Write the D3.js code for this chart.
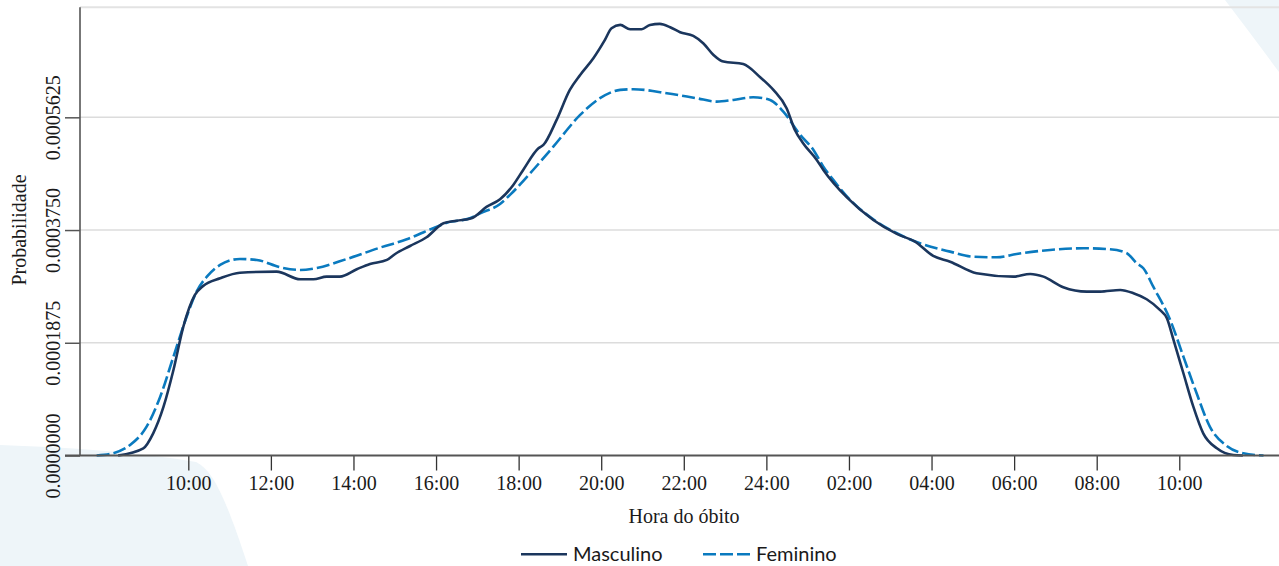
<!DOCTYPE html>
<html>
<head>
<meta charset="utf-8">
<script src="https://cdn.jsdelivr.net/npm/d3@7/dist/d3.min.js"></script>
<style>
  html, body { margin: 0; padding: 0; background: #ffffff; }
  svg { display: block; }
</style>
</head>
<body>
<svg id="chart" width="1279" height="566"></svg>
<script>
// Hour axis: continuous hours starting at 10:00, running past midnight to 10:00 next day
const hourTicks = [10, 12, 14, 16, 18, 20, 22, 24, 26, 28, 30, 32, 34];
const hourTickLabels = ["10:00", "12:00", "14:00", "16:00", "18:00", "20:00", "22:00",
                        "24:00", "02:00", "04:00", "06:00", "08:00", "10:00"];

const densityTicks = [0, 0.0001875, 0.000375, 0.0005625];
const densityTickLabels = ["0.0000000", "0.0001875", "0.0003750", "0.0005625"];

const seriesNames = ["Masculino", "Feminino"];

// Kernel density of the hour of death, men
const masculinoHour = [8.30, 8.91, 9.15, 9.40, 9.64, 9.88, 10.16, 10.36, 10.77, 11.25, 12.14, 12.71,
  13.03, 13.35, 13.67, 14.08, 14.40, 14.81, 15.01, 15.37, 15.77, 16.18, 16.50, 16.86, 17.23, 17.55,
  17.87, 18.11, 18.48, 18.60, 18.92, 19.24, 19.49, 19.81, 20.09, 20.25, 20.46, 20.70, 20.98, 21.18,
  21.42, 21.67, 21.91, 22.23, 22.47, 22.72, 22.96, 23.44, 23.85, 24.17, 24.49, 24.69, 24.89, 25.22,
  25.38, 25.95, 26.59, 27.16, 27.60, 28.04, 28.45, 29.09, 29.98, 30.39, 30.71, 31.19, 31.76, 32.08,
  32.57, 32.89, 33.21, 33.53, 33.70, 33.86, 34.10, 34.34, 34.58, 34.91, 35.31, 35.54];
const masculinoDensity = [0, 0.120e-4, 0.369e-4, 0.812e-4, 1.422e-4, 2.143e-4, 2.670e-4, 2.820e-4,
  2.948e-4, 3.041e-4, 3.058e-4, 2.931e-4, 2.931e-4, 2.975e-4, 2.975e-4, 3.098e-4, 3.186e-4, 3.253e-4,
  3.352e-4, 3.485e-4, 3.630e-4, 3.863e-4, 3.906e-4, 3.946e-4, 4.139e-4, 4.262e-4, 4.500e-4, 4.750e-4,
  5.111e-4, 5.166e-4, 5.582e-4, 6.081e-4, 6.330e-4, 6.608e-4, 6.913e-4, 7.107e-4, 7.162e-4, 7.091e-4,
  7.091e-4, 7.162e-4, 7.179e-4, 7.124e-4, 7.041e-4, 6.979e-4, 6.858e-4, 6.663e-4, 6.552e-4, 6.513e-4,
  6.292e-4, 6.081e-4, 5.776e-4, 5.415e-4, 5.194e-4, 4.916e-4, 4.750e-4, 4.292e-4, 3.918e-4, 3.685e-4,
  3.557e-4, 3.319e-4, 3.224e-4, 3.031e-4, 2.975e-4, 3.020e-4, 2.975e-4, 2.798e-4, 2.725e-4, 2.725e-4,
  2.753e-4, 2.699e-4, 2.599e-4, 2.421e-4, 2.283e-4, 1.922e-4, 1.368e-4, 0.812e-4, 0.369e-4, 0.120e-4,
  0.008e-4, 0];

// Kernel density of the hour of death, women
const femininoHour = [7.78, 8.18, 8.59, 8.99, 9.32, 9.64, 9.96, 10.20, 10.45, 10.77, 11.25, 11.66,
  12.22, 12.71, 13.11, 13.84, 14.64, 15.29, 15.93, 16.26, 16.82, 17.07, 17.55, 17.79, 18.28, 18.84,
  19.49, 19.97, 20.46, 20.78, 21.59, 22.31, 22.80, 23.20, 23.68, 24.09, 24.41, 24.82, 25.14, 25.38,
  25.62, 26.03, 26.67, 27.16, 27.72, 28.45, 29.01, 29.58, 30.06, 30.87, 31.68, 32.32, 32.73, 32.97,
  33.13, 33.37, 33.78, 34.10, 34.42, 34.74, 35.15, 35.55, 36.04];
const femininoDensity = [0, 0.037e-4, 0.175e-4, 0.479e-4, 0.978e-4, 1.644e-4, 2.309e-4, 2.725e-4,
  2.975e-4, 3.169e-4, 3.269e-4, 3.253e-4, 3.131e-4, 3.086e-4, 3.119e-4, 3.269e-4, 3.457e-4, 3.597e-4,
  3.780e-4, 3.873e-4, 3.946e-4, 4.029e-4, 4.184e-4, 4.334e-4, 4.695e-4, 5.137e-4, 5.665e-4, 5.943e-4,
  6.081e-4, 6.093e-4, 6.026e-4, 5.943e-4, 5.886e-4, 5.914e-4, 5.959e-4, 5.914e-4, 5.720e-4, 5.332e-4,
  5.083e-4, 4.805e-4, 4.584e-4, 4.251e-4, 3.890e-4, 3.697e-4, 3.530e-4, 3.391e-4, 3.307e-4, 3.297e-4,
  3.352e-4, 3.419e-4, 3.447e-4, 3.431e-4, 3.364e-4, 3.198e-4, 3.114e-4, 2.808e-4, 2.254e-4, 1.644e-4,
  1.035e-4, 0.479e-4, 0.158e-4, 0.037e-4, 0];

const svg = d3.select("#chart");
const W = 1279, H = 566;
const plot = { left: 80, right: 1279, top: 7.3, bottom: 455.5 };

// Decorative pale shapes in the page background
const bgFill = "#eef5f9";
svg.append("path")
  .attr("fill", bgFill)
  .attr("d", "M0,445 C60,447 140,452 196,462 C214,470 228,505 248,566 L0,566 Z");
svg.append("path")
  .attr("fill", bgFill)
  .attr("d", "M1225,0 L1250,33 L1279,72 L1279,0 Z");

const x = d3.scaleLinear().domain([7.377, 36.415]).range([plot.left, plot.right]);
const y = d3.scaleLinear().domain([0, 0.0007455]).range([plot.bottom, plot.top]);

// Horizontal grid and plot-region top edge
svg.append("line")
  .attr("x1", plot.left).attr("x2", W)
  .attr("y1", plot.top).attr("y2", plot.top)
  .attr("stroke", "#e3e3e3").attr("stroke-width", 2);
svg.append("g").selectAll("line")
  .data(densityTicks.filter(d => d > 0))
  .join("line")
  .attr("x1", plot.left).attr("x2", W)
  .attr("y1", d => y(d)).attr("y2", d => y(d))
  .attr("stroke", "#dcdcdc").attr("stroke-width", 1.5);

// Density curves
const series = [
  { name: seriesNames[0], hours: masculinoHour, values: masculinoDensity, color: "#1b365d", dash: null },
  { name: seriesNames[1], hours: femininoHour, values: femininoDensity, color: "#0a7abf", dash: "13,4" }
];
const line = d3.line()
  .x(d => x(d[0]))
  .y(d => y(d[1]))
  .curve(d3.curveMonotoneX);

svg.append("g").selectAll("path")
  .data(series.slice().reverse())
  .join("path")
  .attr("fill", "none")
  .attr("stroke", d => d.color)
  .attr("stroke-width", 2.6)
  .attr("stroke-linejoin", "round")
  .attr("stroke-dasharray", d => d.dash)
  .attr("d", d => line(d.hours.map((h, i) => [h, d.values[i]])));

// X axis
const xAxis = d3.axisBottom(x)
  .tickValues(hourTicks)
  .tickFormat((d, i) => hourTickLabels[i])
  .tickSize(15)
  .tickPadding(4);
const gx = svg.append("g").attr("transform", `translate(0,${plot.bottom})`).call(xAxis);
gx.select(".domain").remove();
gx.selectAll(".tick line").attr("stroke", "#333").attr("stroke-width", 1.3);
gx.selectAll(".tick text")
  .attr("font-family", "'Liberation Serif', 'Times New Roman', serif")
  .attr("font-size", 20)
  .attr("fill", "#1a1a1a")
  .attr("dy", 0)
  .attr("y", 34.5);
svg.append("line")
  .attr("x1", 65).attr("x2", W)
  .attr("y1", plot.bottom).attr("y2", plot.bottom)
  .attr("stroke", "#555").attr("stroke-width", 2);

// Y axis with vertical tick labels
const yAxis = d3.axisLeft(y)
  .tickValues(densityTicks)
  .tickFormat((d, i) => densityTickLabels[i])
  .tickSize(15);
const gy = svg.append("g").attr("transform", `translate(${plot.left},0)`).call(yAxis);
gy.select(".domain").remove();
gy.selectAll(".tick line").attr("stroke", "#555").attr("stroke-width", 1.5);
gy.selectAll(".tick text")
  .attr("font-family", "'Liberation Serif', 'Times New Roman', serif")
  .attr("font-size", 20)
  .attr("fill", "#1a1a1a")
  .attr("x", 0).attr("y", 0).attr("dy", 0)
  .attr("text-anchor", "middle")
  .attr("transform", "translate(-20,0) rotate(-90)");
svg.append("line")
  .attr("x1", plot.left).attr("x2", plot.left)
  .attr("y1", plot.top).attr("y2", plot.bottom)
  .attr("stroke", "#555").attr("stroke-width", 1.6);

// Axis titles
svg.append("text")
  .attr("transform", "translate(26,230) rotate(-90)")
  .attr("text-anchor", "middle")
  .attr("font-family", "'Liberation Serif', 'Times New Roman', serif")
  .attr("font-size", 20)
  .attr("fill", "#1a1a1a")
  .text("Probabilidade");
svg.append("text")
  .attr("x", 684).attr("y", 523)
  .attr("text-anchor", "middle")
  .attr("font-family", "'Liberation Serif', 'Times New Roman', serif")
  .attr("font-size", 20)
  .attr("fill", "#1a1a1a")
  .text("Hora do óbito");

// Legend
const legendItems = [
  { x1: 521, x2: 567, tx: 573 },
  { x1: 703, x2: 750, tx: 756 }
];
const lg = svg.append("g");
series.forEach((s, i) => {
  const it = legendItems[i];
  lg.append("line")
    .attr("x1", it.x1).attr("x2", it.x2)
    .attr("y1", 554.3).attr("y2", 554.3)
    .attr("stroke", s.color).attr("stroke-width", 2.6)
    .attr("stroke-dasharray", s.dash);
  lg.append("text")
    .attr("x", it.tx).attr("y", 561)
    .attr("font-family", "Lato, 'Open Sans', sans-serif")
    .attr("font-size", 20)
    .attr("fill", "#1a1a1a")
    .text(s.name);
});
</script>
</body>
</html>
